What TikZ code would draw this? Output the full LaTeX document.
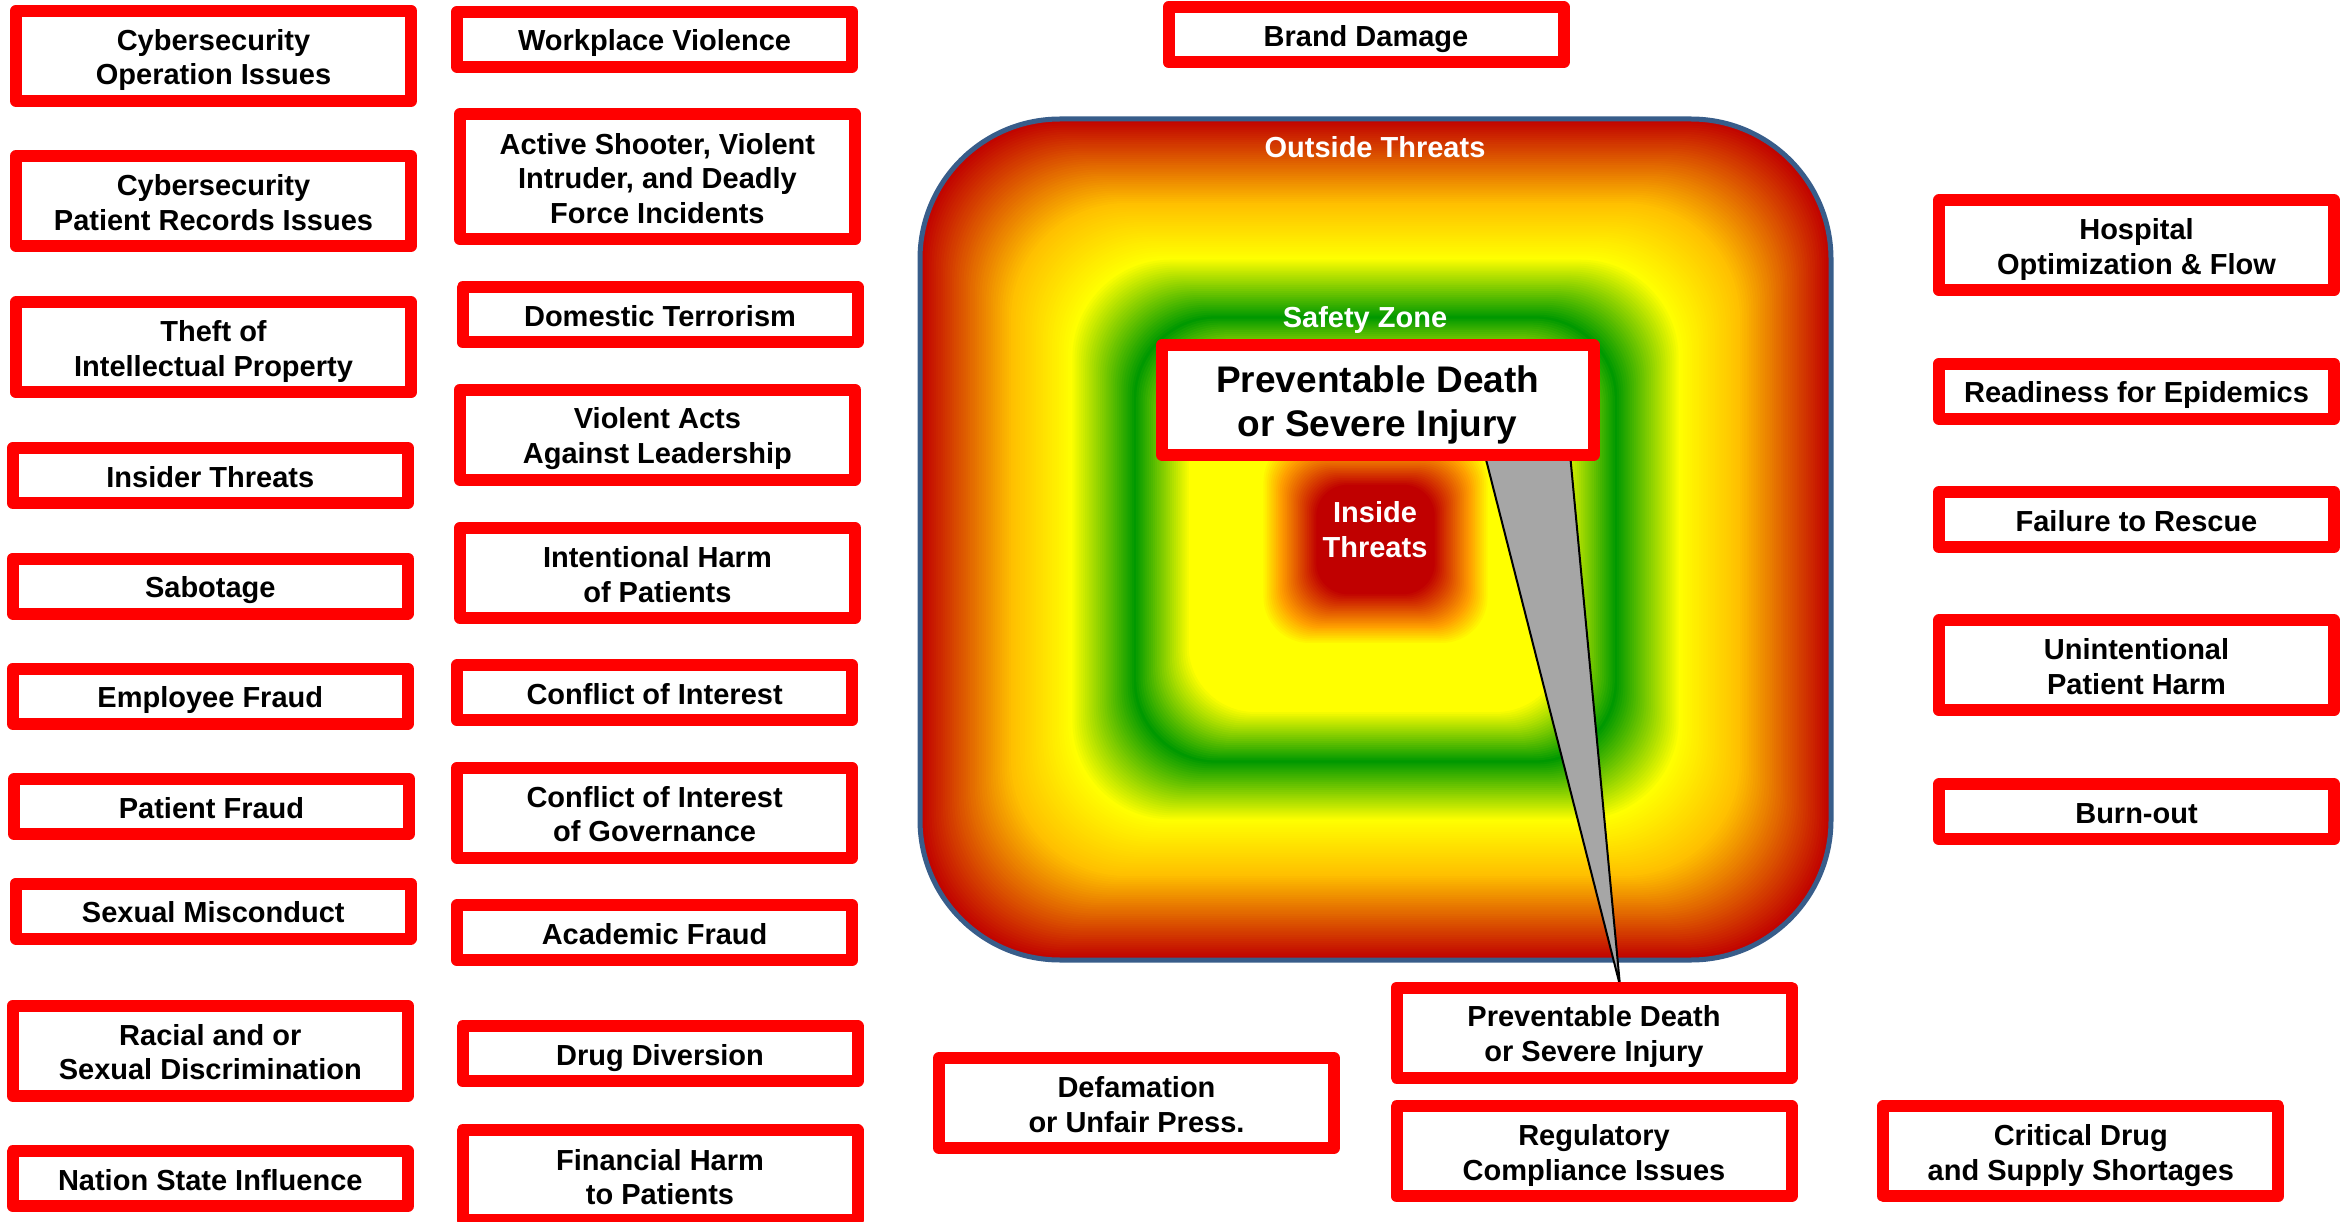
\documentclass[tikz,border=0pt]{standalone}
\usepackage{fontspec}
\setmainfont{Liberation Sans}
\usetikzlibrary{calc}
\definecolor{gRed}{HTML}{C00000}
\definecolor{gGold}{HTML}{FFC000}
\definecolor{gYellow}{HTML}{FFFF00}
\definecolor{gGreen}{HTML}{009900}
\definecolor{gOrange}{HTML}{FFA000}
\definecolor{frameBlue}{HTML}{385D8A}
\definecolor{boxRed}{HTML}{FF0000}
\definecolor{calloutGray}{HTML}{A6A6A6}
\newcommand{\boxfont}{\fontsize{29}{34.5}\selectfont\lineskiplimit=-100pt\bfseries}
\newcommand{\bigboxfont}{\fontsize{37}{44}\selectfont\lineskiplimit=-100pt\bfseries}
\newcommand{\cstrut}{\rule[-5.35pt]{0pt}{34.5pt}}
\newcommand{\Cstrut}{\rule[-7.15pt]{0pt}{44pt}}
\newcommand{\gseg}[5]{%
  \foreach \k in {0,...,#5}{%
    \pgfmathsetmacro\gT{#1-(#1-#2)*\k/#5}%
    \pgfmathsetmacro\gP{100*\k/#5}%
    \pgfmathsetmacro\gR{125*\gT+15}%
    \fill[fill=#4!\gP!#3, rounded corners=\gR pt]
      ({1375.5-455.5*\gT},{539.5-420.5*\gT}) rectangle ({1375.5+455.5*\gT},{539.5+420.5*\gT});
  }}
\pgfdeclarelayer{grad}
\pgfdeclarelayer{call}
\pgfsetlayers{grad,call,main}
\begin{document}
\begin{tikzpicture}[x=1pt,y=-1pt,
  rb/.style={draw=boxRed, line width=12pt, line join=round, fill=white, text=black,
    minimum width=395pt, minimum height=55pt, inner sep=0pt, align=center, font=\boxfont},
  rb2/.style={rb, minimum height=90pt},
  rb3/.style={rb, minimum height=125pt},
  zonelabel/.style={text=white, font=\boxfont, align=center, inner sep=0pt},
  callout/.style={fill=calloutGray, draw=black, line width=2pt, line join=round}]
\useasboundingbox (0,0) rectangle (2351,1222);

% gradient zone square
\begin{pgfonlayer}{grad}
  \gseg{1.00}{0.80}{gRed}{gGold}{40}
  \gseg{0.80}{0.67}{gGold}{gYellow}{26}
  \gseg{0.67}{0.53}{gYellow}{gGreen}{30}
  \gseg{0.53}{0.41}{gGreen}{gYellow}{26}
  \gseg{0.41}{0.25}{gYellow}{gYellow}{1}
  \gseg{0.25}{0.21}{gYellow}{gOrange}{10}
  \gseg{0.21}{0.13}{gOrange}{gRed}{20}
  \draw[frameBlue, line width=5pt, rounded corners=140pt] (920,119) rectangle (1831,960);
\end{pgfonlayer}

\node[zonelabel] (outl) at (1375,146) {\cstrut Outside Threats};
\node[zonelabel] (safl) at (1365,315.5) {\cstrut Safety Zone};
\node[zonelabel] (insl) at (1375,528) {\cstrut Inside\\\cstrut Threats};

% left column
\node[rb2] (cyo) at (213.5,55.8) {\cstrut Cybersecurity\\\cstrut Operation Issues};
\node[rb2] (cyp) at (213.5,201) {\cstrut Cybersecurity\\\cstrut Patient Records Issues};
\node[rb2] (thf) at (213.5,347.3) {\cstrut Theft of\\\cstrut Intellectual Property};
\node[rb] (ins) at (210.3,475.5) {\cstrut Insider Threats};
\node[rb] (sab) at (210.3,586) {\cstrut Sabotage};
\node[rb] (emp) at (210.3,696.2) {\cstrut Employee Fraud};
\node[rb] (paf) at (211.5,806.5) {\cstrut Patient Fraud};
\node[rb] (sex) at (213.3,911) {\cstrut Sexual Misconduct};
\node[rb2] (rac) at (210.3,1050.7) {\cstrut Racial and or\\\cstrut Sexual Discrimination};
\node[rb] (nsi) at (210.3,1178.7) {\cstrut Nation State Influence};

% middle column
\node[rb] (wpv) at (654.6,39.2) {\cstrut Workplace Violence};
\node[rb3] (act) at (657.4,176.8) {\cstrut Active Shooter, Violent\\\cstrut Intruder, and Deadly\\\cstrut Force Incidents};
\node[rb] (dom) at (660,314.8) {\cstrut Domestic Terrorism};
\node[rb2] (via) at (657.4,434.6) {\cstrut Violent Acts\\\cstrut Against Leadership};
\node[rb2] (ihp) at (657.4,572.9) {\cstrut Intentional Harm\\\cstrut of Patients};
\node[rb] (coi) at (654.6,692.8) {\cstrut Conflict of Interest};
\node[rb2] (cog) at (654.6,812.8) {\cstrut Conflict of Interest\\\cstrut of Governance};
\node[rb] (acf) at (654.6,932.8) {\cstrut Academic Fraud};
\node[rb] (drd) at (660,1053.8) {\cstrut Drug Diversion};
\node[rb2] (fhp) at (660,1175.4) {\cstrut Financial Harm\\\cstrut to Patients};

% top and centre
\node[rb] (bra) at (1366,34.7) {\cstrut Brand Damage};
\node[rb, minimum width=432pt, minimum height=109pt, font=\bigboxfont] (pds) at (1377.7,400) {\Cstrut Preventable Death\\\Cstrut or Severe Injury};

% right column
\node[rb2] (hof) at (2136.5,245.3) {\cstrut Hospital\\\cstrut Optimization \& Flow};
\node[rb] (rfe) at (2136.5,391.3) {\cstrut Readiness for Epidemics};
\node[rb] (ftr) at (2136.5,519.6) {\cstrut Failure to Rescue};
\node[rb2] (uph) at (2136.5,665.3) {\cstrut Unintentional\\\cstrut Patient Harm};
\node[rb] (bur) at (2136.5,811.9) {\cstrut Burn-out};

% bottom row
\node[rb2] (pdb) at (1594,1032.5) {\cstrut Preventable Death\\\cstrut or Severe Injury};
\node[rb2] (def) at (1136.5,1103) {\cstrut Defamation\\\cstrut or Unfair Press.};
\node[rb2] (reg) at (1594,1151.3) {\cstrut Regulatory\\\cstrut Compliance Issues};
\node[rb2] (crd) at (2080.8,1151.3) {\cstrut Critical Drug\\\cstrut and Supply Shortages};

% callout
\coordinate (tip) at ($(pdb.north)+(26,4)$);
\begin{pgfonlayer}{call}
  \draw[callout] ($(pds.south)+(106,-10)$) -- (tip) -- ($(pds.south)+(192,-10)$) -- cycle;
\end{pgfonlayer}
\end{tikzpicture}
\end{document}
